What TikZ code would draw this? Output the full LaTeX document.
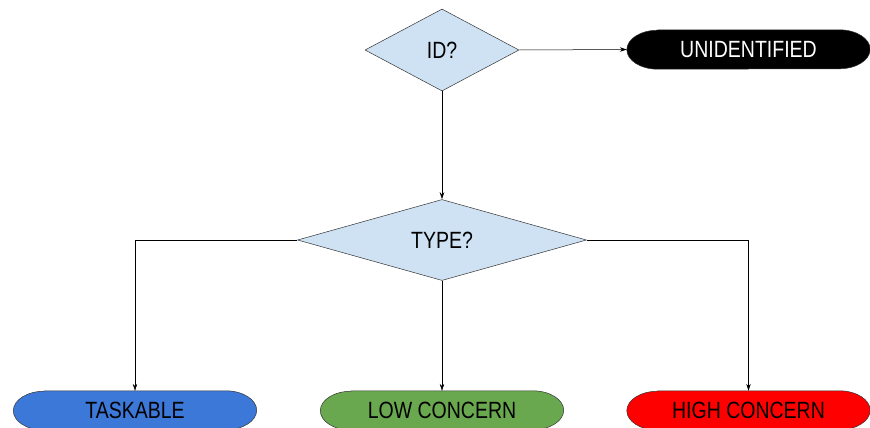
\documentclass[tikz,border=0pt]{standalone}
\usepackage{fontspec}
\setmainfont{Liberation Sans}[FakeStretch=0.83]
\usetikzlibrary{shapes.geometric}
\usetikzlibrary{arrows.meta}
\usetikzlibrary{backgrounds}

\definecolor{askblue}{HTML}{CFE2F3}
\definecolor{taskblue}{HTML}{3C78D8}
\definecolor{lowgreen}{HTML}{6AA84F}
\definecolor{highred}{HTML}{FF0000}

\tikzset{
  question/.style={diamond, draw=black!80, line width=0.5pt, fill=askblue,
    inner sep=0pt, font=\fontsize{23.5}{23.5}\selectfont},
  outcome/.style={rectangle, minimum width=243pt, minimum height=39pt, inner sep=0pt,
    font=\fontsize{23.5}{23.5}\selectfont},
  pill/.style={draw=black!80, line width=0.5pt},
  flow/.style={line width=0.5pt, -{Stealth[length=7pt,width=4.5pt]}},
}

\begin{document}
\begin{tikzpicture}[x=1pt, y=-1pt]
      \useasboundingbox (0, 0) rectangle (870, 428);

      \node[question, minimum width=154pt, minimum height=82pt] (id) at (442, 50) {ID?};
      \node[question, minimum width=289pt, minimum height=81pt] (type) at (442, 240) {TYPE?};

      \node[outcome, text=white] (unid) at (748.5, 49.5) {UNIDENTIFIED};
      \node[outcome] (task) at (135, 410.5) {TASKABLE};
      \node[outcome] (low) at (442, 410.5) {LOW CONCERN};
      \node[outcome] (high) at (748.5, 410.5) {HIGH CONCERN};

      % pill outlines with elliptic ends
      \begin{scope}[on background layer]
        \foreach \n/\c in {unid/black, task/taskblue, low/lowgreen, high/highred}
          \draw[pill, fill=\c] ([xshift=31pt]\n.north west) -- ([xshift=-31pt]\n.north east)
            arc[start angle=90, end angle=-90, x radius=31pt, y radius=19.5pt]
            -- ([xshift=31pt]\n.south west)
            arc[start angle=270, end angle=90, x radius=31pt, y radius=19.5pt] -- cycle;
      \end{scope}

      \draw[flow] (id.east) -- (unid.west);
      \draw[flow] (id.south) -- (type.north);
      \draw[flow] (type.west) -| (task.north);
      \draw[flow] (type.south) -- (low.north);
      \draw[flow] (type.east) -| (high.north);
    \end{tikzpicture}
\end{document}
